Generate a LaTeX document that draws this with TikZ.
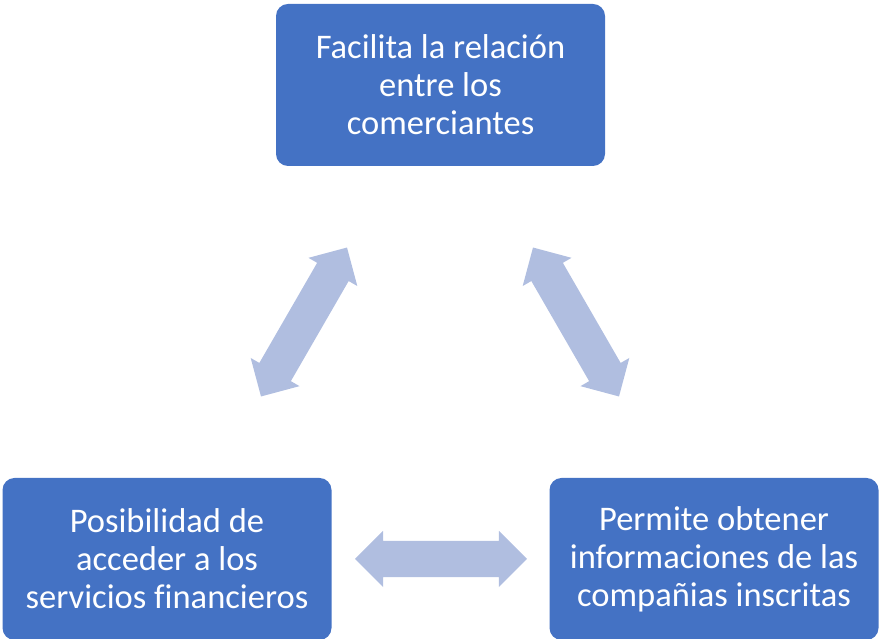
\documentclass[tikz,border=0pt]{standalone}
\usepackage{fontspec}
\setmainfont{Carlito}[Ligatures={NoCommon}]
\usetikzlibrary{shapes.arrows}
\definecolor{boxblue}{RGB}{68,114,196}
\definecolor{arrowblue}{RGB}{176,190,224}
\begin{document}
\begin{tikzpicture}[x=1pt,y=1pt,
  box/.style={fill=boxblue,draw=none,rounded corners=12pt,minimum width=329pt,minimum height=162pt,
    text=white,align=center,font=\fontsize{34.5}{38}\selectfont,inner sep=0pt},
  dbl/.style={shape=double arrow,fill=arrowblue,draw=none,minimum height=172pt,
    inner xsep=0pt,inner ysep=18pt,text height=0pt,text depth=0pt,
    double arrow head extend=10pt}]
\useasboundingbox (0,0) rectangle (879,639);
\node[box] (top) at (440.5,554) {Facilita la relación\\entre los\\comerciantes};
\node[box] (left) at (167,80) {Posibilidad de\\acceder a los\\servicios financieros};
\node[box] (right) at (714,80) {Permite obtener\\informaciones de las\\compañias inscritas};
\node[dbl] (a1) at (441,80) {};
\node[dbl,rotate=60] (a2) at (304,317) {};
\node[dbl,rotate=-60] (a3) at (576,317) {};
\end{tikzpicture}
\end{document}
